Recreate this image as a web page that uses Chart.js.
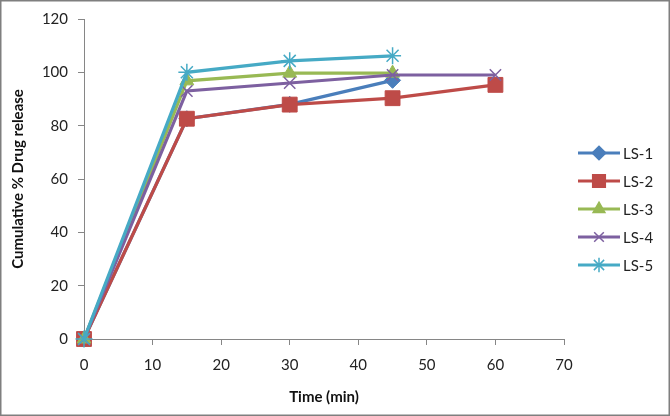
<!DOCTYPE html>
<html>
<head>
<meta charset="utf-8">
<script src="https://cdn.jsdelivr.net/npm/chart.js@4/dist/chart.umd.min.js"></script>
<style>
  html, body { margin: 0; padding: 0; background: #fff; }
  #wrap { width: 670px; height: 416px; }
</style>
</head>
<body>
<div id="wrap"><canvas id="releaseChart" width="670" height="416"></canvas></div>
<script>
const timePoints = [0, 15, 30, 45, 60];
const ls1 = [0, 82.6, 88, 97];
const ls2 = [0, 82.6, 87.9, 90.3, 95.3];
const ls3 = [0, 96.8, 99.7, 99.7];
const ls4 = [0, 93, 96, 99, 99];
const ls5 = [0, 100, 104.3, 106.2];
const seriesNames = ['LS-1', 'LS-2', 'LS-3', 'LS-4', 'LS-5'];
const xTicks = [0, 10, 20, 30, 40, 50, 60, 70];
const yTicks = [0, 20, 40, 60, 80, 100, 120];

const colors = ['#4A7EBB', '#BE4B48', '#98B954', '#7D60A0', '#46AAC5'];
const shapes = ['rectRot', 'rect', 'triangle', 'crossRot', 'star'];
const radii = [8, 10.5, 8, 8, 8.5];
const FONT = 'Lato, "Open Sans", sans-serif';

function toPoints(vals) {
  return vals.map((v, i) => ({ x: timePoints[i], y: v }));
}

const allSeries = [ls1, ls2, ls3, ls4, ls5];

const datasets = allSeries.map((vals, i) => ({
  label: seriesNames[i],
  data: toPoints(vals),
  borderColor: colors[i],
  backgroundColor: colors[i],
  pointStyle: shapes[i],
  pointRadius: radii[i],
  pointBorderWidth: (shapes[i] === 'crossRot' || shapes[i] === 'star') ? 1.5 : 1,
  borderWidth: 3.2,
  showLine: true,
  tension: 0,
  clip: false,
  order: 4 - i   // later series drawn on top, like the original
}));

// white background + outer frame + right-hand legend
const frameAndLegend = {
  id: 'frameAndLegend',
  beforeDraw(chart) {
    const c = chart.ctx;
    c.save();
    c.fillStyle = '#fff';
    c.fillRect(0, 0, chart.width, chart.height);
    c.restore();
  },
  afterDraw(chart) {
    const c = chart.ctx;
    c.save();
    c.strokeStyle = '#7f7f7f';
    c.lineWidth = 1.5;
    c.strokeRect(0.75, 0.75, chart.width - 1.5, chart.height - 1.5);

    c.font = '15px ' + FONT;
    c.textBaseline = 'middle';
    seriesNames.forEach((name, i) => {
      const y = 153 + i * 28;
      c.strokeStyle = colors[i];
      c.lineWidth = 3.2;
      c.beginPath();
      c.moveTo(578, y);
      c.lineTo(620, y);
      c.stroke();
      c.fillStyle = colors[i];
      c.lineWidth = 1.5;
      Chart.helpers.drawPoint(c, {
        pointStyle: shapes[i],
        radius: radii[i] * 0.85,
        borderWidth: 1.5,
        rotation: 0
      }, 599, y);
      c.fillStyle = '#222';
      c.fillText(name, 623, y + 1);
    });
    c.restore();
  }
};

new Chart(document.getElementById('releaseChart'), {
  type: 'scatter',
  data: { datasets },
  plugins: [frameAndLegend],
  options: {
    responsive: false,
    animation: false,
    layout: { padding: { top: 18, right: 106, left: 0, bottom: 0 } },
    plugins: {
      legend: { display: false },
      tooltip: { enabled: false }
    },
    scales: {
      x: {
        type: 'linear',
        min: 0,
        max: 70,
        afterBuildTicks: s => { s.ticks = xTicks.map(v => ({ value: v })); },
        afterFit: s => { s.height = 77; },
        grid: { display: true, drawOnChartArea: false, drawTicks: true, tickLength: 6, color: '#868686' },
        border: { color: '#868686', width: 1 },
        ticks: { color: '#222', font: { family: FONT, size: 15 }, padding: 11, maxRotation: 0 },
        title: { display: true, text: 'Time (min)', color: '#111', font: { family: FONT, size: 15, weight: 'bold' }, padding: { top: 4, bottom: 10 } }
      },
      y: {
        min: 0,
        max: 120,
        afterBuildTicks: s => { s.ticks = yTicks.map(v => ({ value: v })); },
        afterFit: s => { s.width = 84; },
        grid: { display: true, drawOnChartArea: false, drawTicks: true, tickLength: 6, color: '#868686' },
        border: { color: '#868686', width: 1 },
        ticks: { color: '#222', font: { family: FONT, size: 15 }, padding: 10 },
        title: { display: true, text: 'Cumulative % Drug release', color: '#111', font: { family: FONT, size: 15, weight: 'bold' }, padding: { top: 9, bottom: 4 } }
      }
    }
  }
});
</script>
</body>
</html>
